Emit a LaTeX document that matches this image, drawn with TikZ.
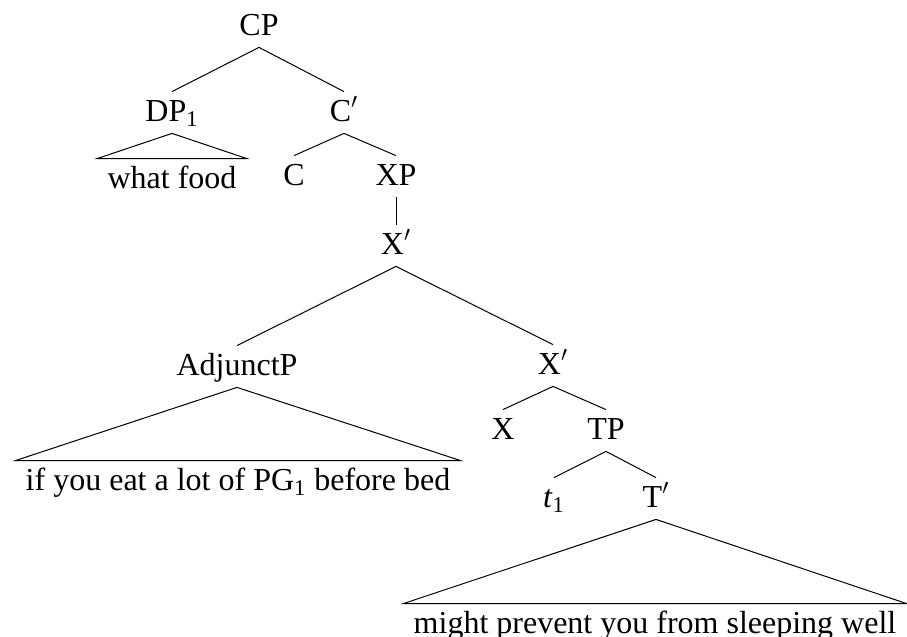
\documentclass[tikz,border=0pt]{standalone}
\usepackage{fontspec}
\setmainfont{Liberation Serif}
\usepackage{tikz}
\usetikzlibrary{positioning}

\begin{document}
\begin{tikzpicture}[
    x=0.5pt, y=-0.5pt,
    every node/.style={font=\fontsize{16}{19}\selectfont},
    cat/.style={anchor=base, inner xsep=1pt, inner ysep=3.5pt,
                text height=11pt, text depth=2.5pt},
    roofed/.style={cat, inner xsep=5pt},
    branch/.style={line width=0.5pt}
]
    \useasboundingbox (0,0) rectangle (907,637);

    \node[cat] (cp) at (259,35) {CP};
    \node[cat] (dp) at (172,121) {DP\textsubscript{1}};
    \node[cat] (cbar) at (344,121) {C$'$};
    \node[roofed] (wf) at (172,188) {what food};
    \node[cat] (c) at (294,185) {C};
    \node[cat] (xp) at (396,185) {XP};
    \node[cat] (xbar) at (396,254) {X$'$};
    \node[cat] (adjp) at (237,375) {AdjunctP};
    \node[cat] (xbarb) at (553,374) {X$'$};
    \node[roofed] (ifs) at (238,490) {if you eat a lot of PG\textsubscript{1} before bed};
    \node[cat] (x) at (503,439) {X};
    \node[cat] (tp) at (606,439) {TP};
    \node[cat] (tr) at (554,507) {\textit{t}\textsubscript{1}};
    \node[cat] (tbar) at (656,507) {T$'$};
    \node[roofed] (mp) at (655,633) {might prevent you from sleeping well};

    \draw[branch] (cp.south) -- (dp.north);
    \draw[branch] (cp.south) -- (cbar.north);
    \draw[branch] (dp.south) -- (wf.north west) -- (wf.north east) -- cycle;
    \draw[branch] (cbar.south) -- (c.north);
    \draw[branch] (cbar.south) -- (xp.north);
    \draw[branch] (xp.south) -- (xbar.north);
    \draw[branch] (xbar.south) -- (adjp.north);
    \draw[branch] (xbar.south) -- (xbarb.north);
    \draw[branch] (adjp.south) -- (ifs.north west) -- (ifs.north east) -- cycle;
    \draw[branch] (xbarb.south) -- (x.north);
    \draw[branch] (xbarb.south) -- (tp.north);
    \draw[branch] (tp.south) -- (tr.north);
    \draw[branch] (tp.south) -- (tbar.north);
    \draw[branch] (tbar.south) -- (mp.north west) -- (mp.north east) -- cycle;
\end{tikzpicture}
\end{document}
